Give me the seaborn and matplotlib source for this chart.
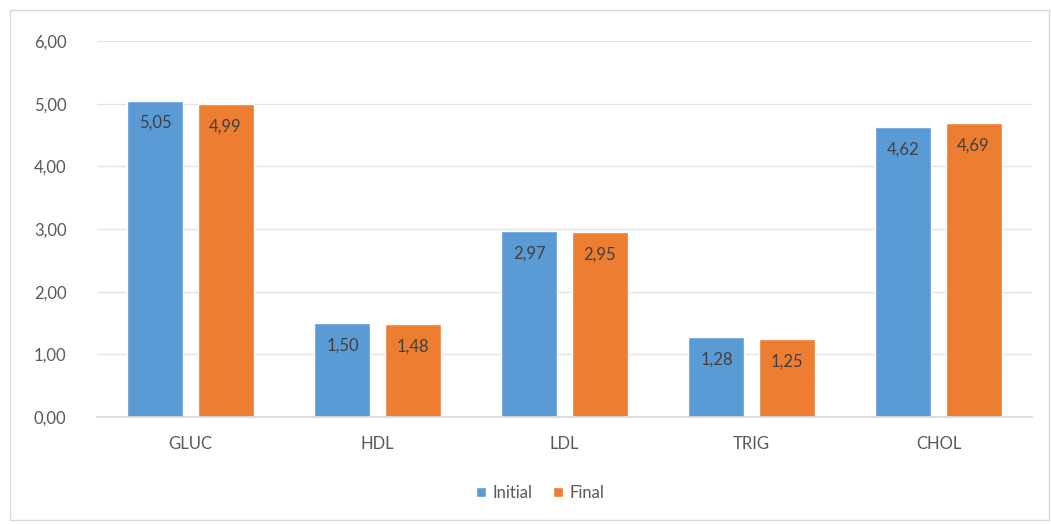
import numpy as np
import pandas as pd
import matplotlib
matplotlib.use("Agg")
import matplotlib.pyplot as plt
import seaborn as sns
from matplotlib.patches import Rectangle

categories = ["GLUC", "HDL", "LDL", "TRIG", "CHOL"]
initial = [5.05, 1.50, 2.97, 1.28, 4.62]
final = [4.99, 1.48, 2.95, 1.25, 4.69]
series = ["Initial", "Final"]
yticks = [0, 1, 2, 3, 4, 5, 6]

df = pd.DataFrame({
    "cat": categories * 2,
    "value": initial + final,
    "series": [series[0]] * len(categories) + [series[1]] * len(categories),
})

sns.set_theme(style="white")
plt.rcParams["font.family"] = ["Lato", "DejaVu Sans"]
gray = "#595959"

fig = plt.figure(figsize=(10.51, 5.24), dpi=100)
ax = fig.add_axes([97 / 1051, 1 - 417 / 524, (1032 - 97) / 1051, (417 - 41) / 524])

# chart frame
fig.patches.append(Rectangle((10 / 1051, 4 / 524), 1039 / 1051, 510 / 524,
                             transform=fig.transFigure, fill=False,
                             edgecolor="#D9D9D9", linewidth=1))

sns.barplot(data=df, x="cat", y="value", hue="series", ax=ax,
            palette=["#5B9BD5", "#ED7D31"], width=0.75, gap=0.2,
            saturation=1, errorbar=None, legend=True)

for cont in ax.containers:
    vals = [p.get_height() for p in cont]
    ax.bar_label(cont, labels=[f"{v:.2f}".replace(".", ",") for v in vals],
                 padding=-22, color="#404040", fontsize=12)

ax.set_ylim(0, 6)
ax.set_xlim(-0.5, 4.5)
ax.set_yticks(yticks)
ax.set_yticklabels([f"{t:.2f}".replace(".", ",") for t in yticks])
ax.yaxis.grid(True, color="#E3E3E3", linewidth=1)
ax.set_axisbelow(True)
for s in ["top", "right", "left"]:
    ax.spines[s].set_visible(False)
ax.spines["bottom"].set_color("#D9D9D9")
ax.tick_params(axis="both", colors=gray, labelsize=12, length=0)
ax.tick_params(axis="y", pad=22)
ax.tick_params(axis="x", pad=14)
ax.set_xlabel("")
ax.set_ylabel("")

leg = ax.legend(loc="center", bbox_to_anchor=(540 / 1051, 1 - 493 / 524),
                bbox_transform=fig.transFigure, ncol=2, frameon=False,
                fontsize=12, handlelength=0.6, handleheight=0.6,
                handletextpad=0.4, columnspacing=1.2)
for t in leg.get_texts():
    t.set_color(gray)

fig.savefig("out.png", dpi=100)
